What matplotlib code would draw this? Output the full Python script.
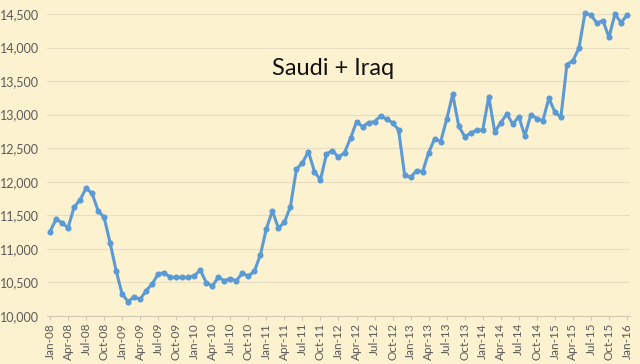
import matplotlib.pyplot as plt
import pandas as pd

# monthly production, kb/d, Jan-08 .. Jan-16
months = pd.date_range("2008-01-01", "2016-01-01", freq="MS")
values = [
    11257, 11440, 11390, 11311, 11620, 11729, 11903, 11828, 11570, 11470, 11093, 10676,
    10328, 10214, 10288, 10248, 10378, 10477, 10626, 10646, 10576, 10576, 10576, 10576,
    10596, 10686, 10497, 10447, 10576, 10527, 10556, 10527, 10636, 10596, 10666, 10909,
    11301, 11565, 11311, 11396, 11629, 12186, 12285, 12449, 12151, 12027, 12414, 12464,
    12365, 12434, 12648, 12891, 12822, 12881, 12896, 12981, 12931, 12881, 12772, 12101,
    12066, 12166, 12151, 12434, 12643, 12598, 12931, 13303, 12832, 12673, 12722, 12772,
    12772, 13269, 12742, 12881, 13010, 12861, 12971, 12683, 13000, 12941, 12911, 13244,
    13040, 12961, 13746, 13805, 13989, 14511, 14486, 14362, 14402, 14153, 14501, 14372,
    14481,
]
tick_labels = [d.strftime("%b-%y") for d in months]
title = "Saudi + Iraq"

bg = "#FDF2D0"
plt.rcParams["font.family"] = ["Lato", "DejaVu Sans"]

fig = plt.figure(figsize=(6.4, 3.64), dpi=100, facecolor=bg)
ax = fig.add_axes([0.0734, 0.1319, 0.911, 0.8297], facecolor=bg)

x = list(range(len(values)))
ax.plot(x, values, color="#5B9BD5", linewidth=2.2, marker="o", markersize=4.4,
        markeredgewidth=0, clip_on=False, zorder=3)

ax.set_xlim(-0.5, len(values) - 0.5)
ax.set_ylim(10000, 14500)
ax.set_yticks(range(10000, 14501, 500))
ax.set_yticklabels([f"{v:,}" for v in range(10000, 14501, 500)])
ax.set_xticks(x[::3])
ax.set_xticklabels(tick_labels[::3], rotation=90)

ax.grid(axis="y", color="#E6DCC0", linewidth=0.8)
ax.set_axisbelow(True)
for side in ["top", "right", "left"]:
    ax.spines[side].set_visible(False)
ax.spines["bottom"].set_color("#D0C8B0")
ax.tick_params(axis="y", length=0, labelsize=9, labelcolor="#595959", pad=6)
ax.tick_params(axis="x", length=3, color="#D0C8B0", labelsize=8.5,
               labelcolor="#595959", pad=2)

ax.text(0.49, 0.818, title, transform=ax.transAxes, ha="center", va="center",
        fontsize=17, color="#111111")

fig.savefig("out.png", dpi=100, facecolor=bg)
